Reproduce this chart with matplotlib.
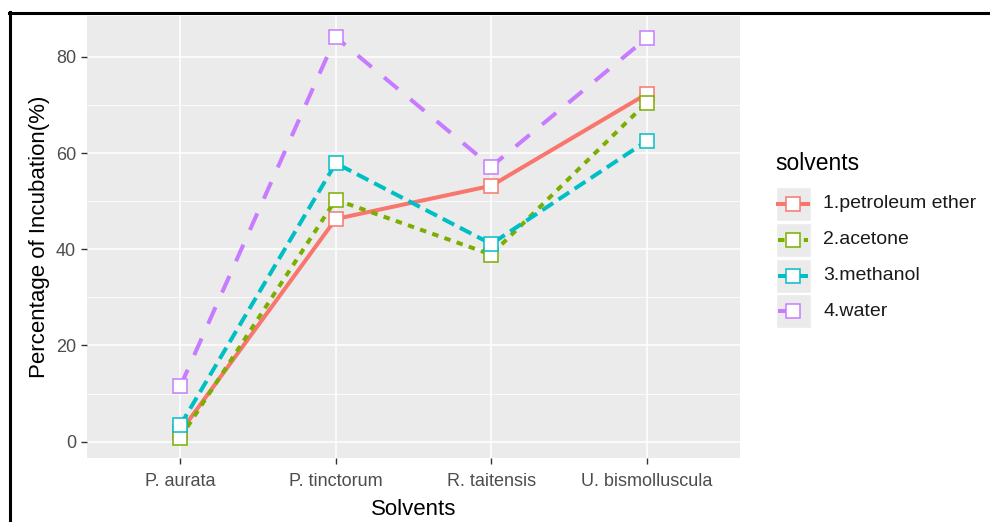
import matplotlib.pyplot as plt
from matplotlib.lines import Line2D
from matplotlib.patches import Rectangle

plt.rcParams['font.family'] = ['Liberation Sans', 'DejaVu Sans']

# data
species = ['P. aurata', 'P. tinctorum', 'R. taitensis', 'U. bismolluscula']
petroleum_ether = [2.0, 46.3, 53.2, 72.3]
acetone = [0.8, 50.3, 38.9, 70.5]
methanol = [3.4, 57.9, 41.1, 62.5]
water = [11.5, 84.1, 57.2, 83.9]

labels = ['1.petroleum ether', '2.acetone', '3.methanol', '4.water']
colors = ['#F8766D', '#7CAE00', '#00BFC4', '#C77CFF']
dashes = [None, (1.6, 1.6), (3.2, 1.6), (4.5, 4.0)]
series = [petroleum_ether, acetone, methanol, water]

W, H = 990, 522
fig = plt.figure(figsize=(W / 100, H / 100), dpi=100)
ax = fig.add_axes([87 / W, 1 - 458 / H, (740 - 87) / W, (458 - 16) / H])
ax.set_facecolor('#EBEBEB')
for s in ax.spines.values():
    s.set_visible(False)

x = list(range(len(species)))
for vals, c, d in zip(series, colors, dashes):
    ln, = ax.plot(x, vals, color=c, lw=2.9, zorder=3,
                  marker='s', ms=10.5, mfc='white', mec=c, mew=1.1)
    if d is not None:
        ln.set_dashes(d)

ax.set_xlim(-0.6, 3.6)
ax.set_ylim(-3.4, 88.5)
ax.set_xticks(x)
ax.set_xticklabels(species)
ax.set_yticks([0, 20, 40, 60, 80])
ax.set_yticks([10, 30, 50, 70], minor=True)
ax.grid(which='major', color='white', lw=1.1, zorder=0)
ax.grid(which='minor', axis='y', color='white', lw=0.55, zorder=0)
ax.set_axisbelow(True)
ax.tick_params(which='major', length=4, width=1, color='#333333',
               labelcolor='#4D4D4D', labelsize=13, pad=4)
ax.tick_params(axis='x', pad=7)
ax.tick_params(which='minor', length=0)
ax.set_xlabel('Solvents', fontsize=16, labelpad=6)
ax.set_ylabel('Percentage of Incubation(%)', fontsize=16, labelpad=4)

# legend drawn in pixel coordinates of the figure
lg = fig.add_axes([0, 0, 1, 1], facecolor='none')
lg.set_xlim(0, W)
lg.set_ylim(H, 0)
lg.axis('off')
lg.text(775, 163, 'solvents', fontsize=16.5, va='center', ha='left')
for i, (lab, c, d) in enumerate(zip(labels, colors, dashes)):
    yc = 204 + i * 35.8
    lg.add_patch(Rectangle((776, yc - 17), 35, 34, facecolor='#EBEBEB',
                           edgecolor='white', lw=1))
    ln = Line2D([778, 808], [yc, yc], color=c, lw=2.9)
    if d is not None:
        ln.set_dashes(d)
    lg.add_line(ln)
    lg.add_line(Line2D([793], [yc], ls='none', marker='s', ms=10,
                       mfc='white', mec=c, mew=1.1))
    lg.text(823, yc, lab, fontsize=14, va='center', ha='left', color='#1A1A1A')

# black frame (top and left edges)
lg.add_line(Line2D([9, W], [12.5, 12.5], color='black', lw=2.2))
lg.add_line(Line2D([10, 10], [12, H], color='black', lw=2.2))

fig.savefig('out.png', dpi=100, facecolor='white')
